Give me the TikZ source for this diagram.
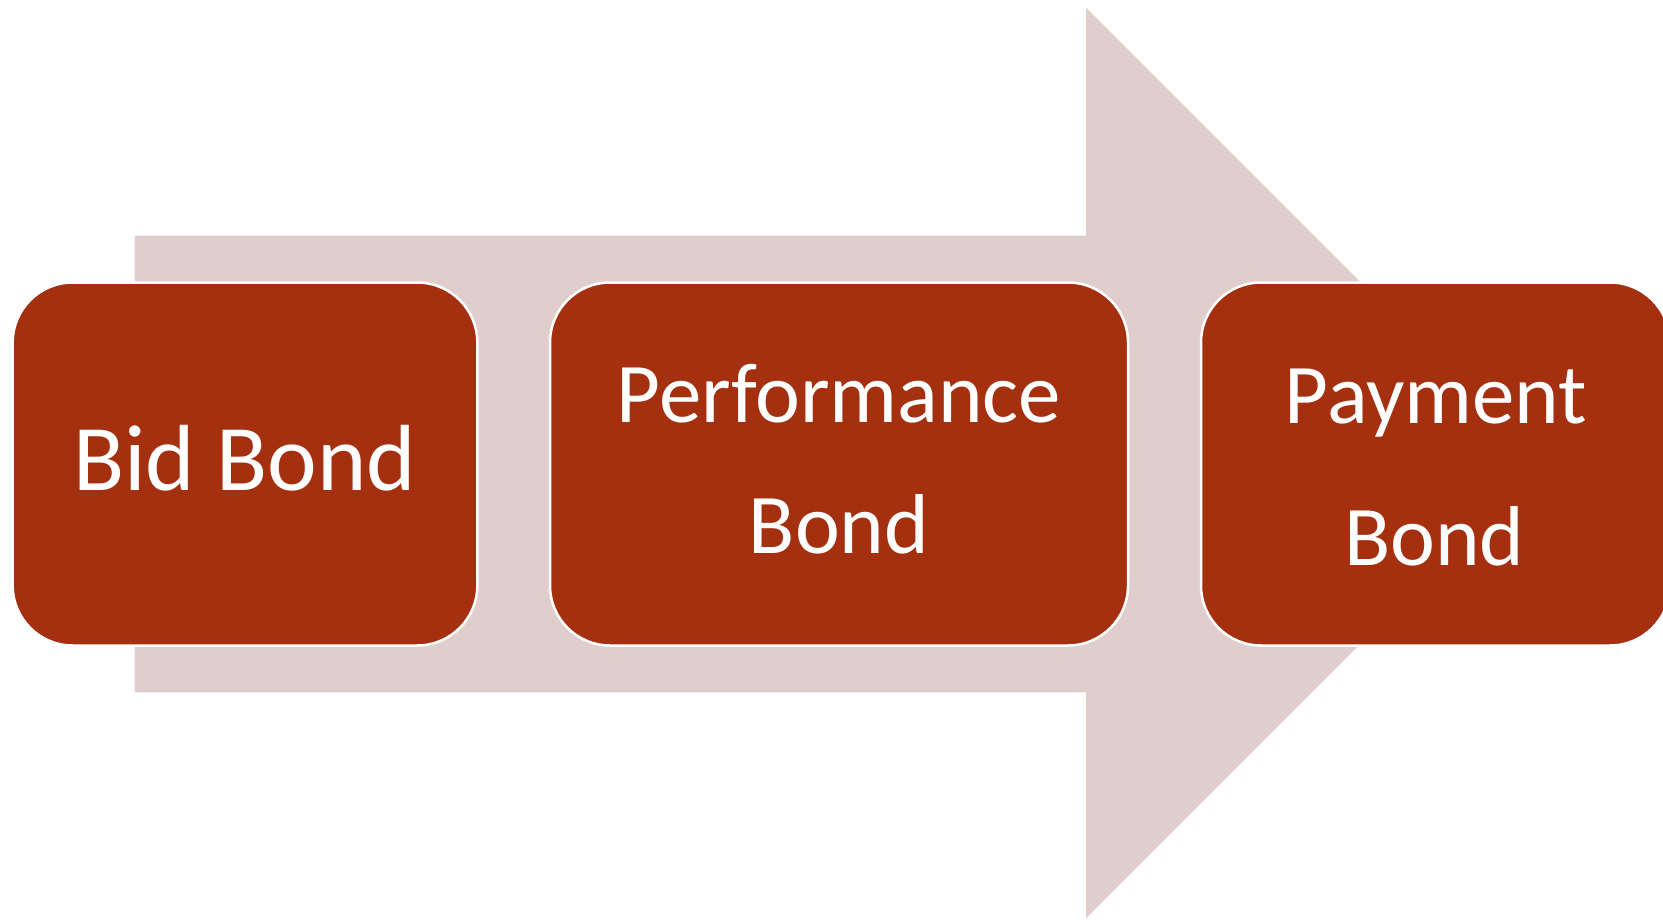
\documentclass[tikz,border=0pt]{standalone}
\usepackage{fontspec}
\setmainfont{Carlito}
\definecolor{arrowpink}{RGB}{224,206,205}
\definecolor{boxred}{RGB}{165,48,16}
\tikzset{
  bondbox/.style={rectangle, rounded corners=60pt, fill=boxred, draw=white, line width=2.5pt, minimum height=363pt, inner sep=0pt},
  bondtext/.style={anchor=base, inner sep=0pt, text=white, font=\fontsize{85}{102}\selectfont},
  bigtext/.style={bondtext, font=\fontsize{94}{113}\selectfont}
}
\begin{document}
\begin{tikzpicture}[x=1pt,y=-1pt]
\useasboundingbox (0,0) rectangle (1663,920);
% big arrow
\fill[arrowpink] (134.7,235.7) -- (1086,235.7) -- (1086,7.3) -- (1541.5,462.8) -- (1086,918.3) -- (1086,692.3) -- (134.7,692.3) -- cycle;
% boxes
\node[bondbox, minimum width=464.6pt] (b1) at (245,464) {};
\node[bondbox, minimum width=578pt] (b2) at (839,464) {};
\node[bondbox, minimum width=469pt] (b3) at (1435.5,464) {};
% texts
\node[bigtext] (t1) at (244.5,490) {Bid Bond};
\node[bondtext] (t2a) at (839,422.5) {Performance};
\node[bondtext] (t2b) at (839,553.5) {Bond};
\node[bondtext] (t3a) at (1436,423) {Payment};
\node[bondtext] (t3b) at (1434.5,565) {Bond};
\end{tikzpicture}
\end{document}
